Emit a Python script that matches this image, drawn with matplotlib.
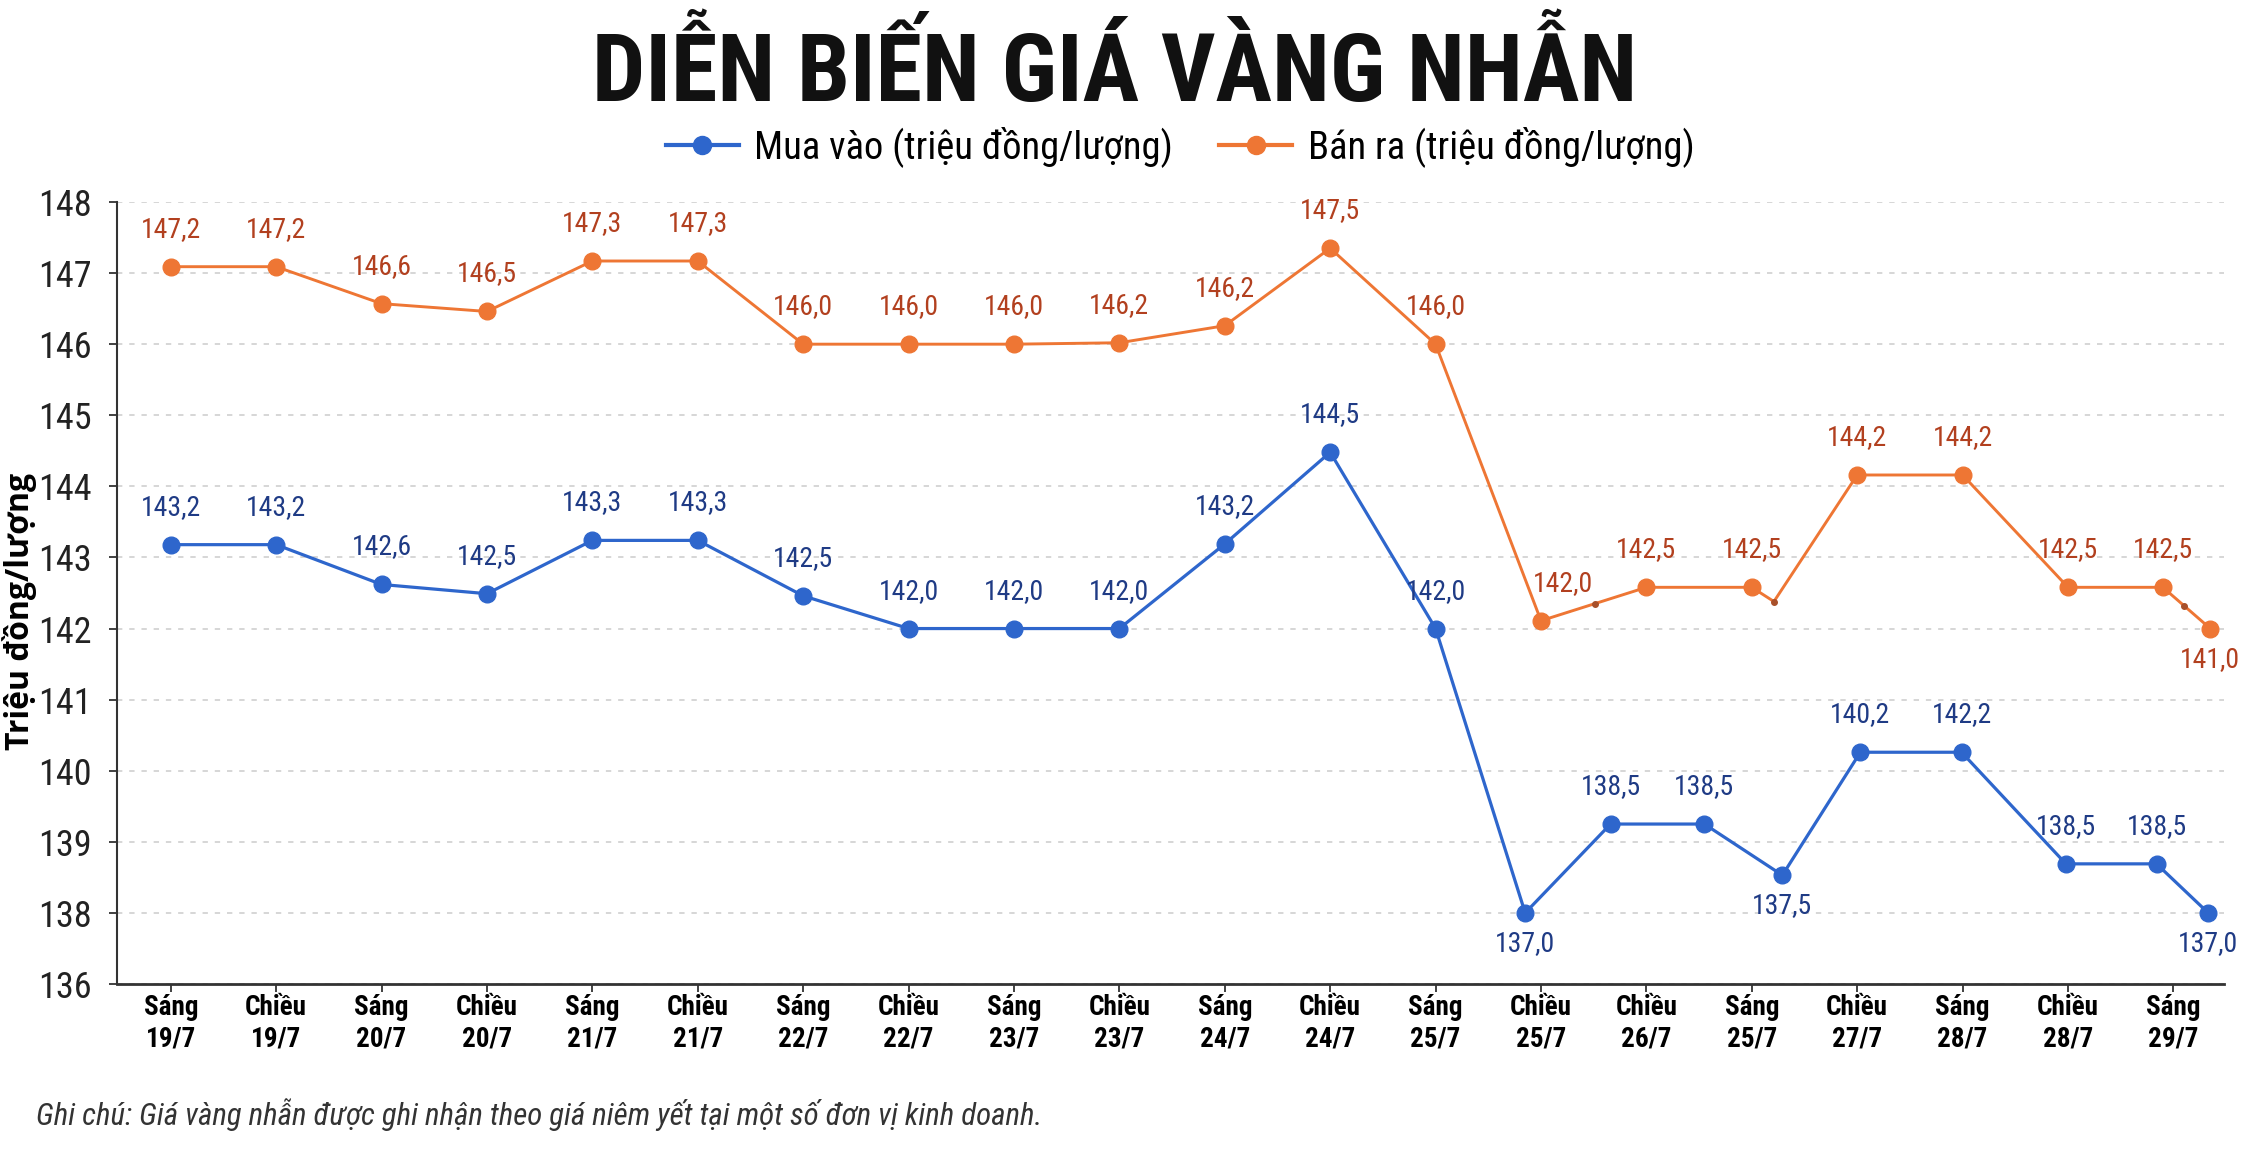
import numpy as np
import matplotlib
matplotlib.use("Agg")
import matplotlib.pyplot as plt
from matplotlib import font_manager as fm
from matplotlib.lines import Line2D

## Dữ liệu
nhan_truc_x = ["Sáng\n19/7", "Chiều\n19/7", "Sáng\n20/7", "Chiều\n20/7", "Sáng\n21/7",
               "Chiều\n21/7", "Sáng\n22/7", "Chiều\n22/7", "Sáng\n23/7", "Chiều\n23/7",
               "Sáng\n24/7", "Chiều\n24/7", "Sáng\n25/7", "Chiều\n25/7", "Chiều\n26/7",
               "Sáng\n25/7", "Chiều\n27/7", "Sáng\n28/7", "Chiều\n28/7", "Sáng\n29/7"]

# Mua vào : vị trí vẽ (x theo chỉ số mốc, y theo thang của trục) và nhãn ghi trên điểm
x_mua = [0, 1, 2, 3, 4, 5, 6, 7, 8, 9, 10, 11, 12,
         12.85, 13.66, 14.55, 15.29, 16.03, 16.99, 17.98, 18.84, 19.33]
y_mua = [143.18, 143.18, 142.62, 142.49, 143.24, 143.24, 142.46, 142.0, 142.0, 142.0,
         143.19, 144.48, 142.0, 138.0, 139.25, 139.25, 138.53, 140.26, 140.26,
         138.69, 138.69, 138.0]
nhan_mua = ["143,2", "143,2", "142,6", "142,5", "143,3", "143,3", "142,5", "142,0",
            "142,0", "142,0", "143,2", "144,5", "142,0", "137,0", "138,5", "138,5",
            "137,5", "140,2", "142,2", "138,5", "138,5", "137,0"]
duoi_mua = [13, 16, 21]          # nhãn đặt dưới điểm

# Bán ra
x_ban = [0, 1, 2, 3, 4, 5, 6, 7, 8, 9, 10, 11, 12,
         13, 14, 15, 16, 17, 18, 18.9, 19.35]
y_ban = [147.09, 147.09, 146.57, 146.46, 147.17, 147.17, 146.0, 146.0, 146.0, 146.02,
         146.26, 147.35, 146.0, 142.11, 142.58, 142.58, 144.16, 144.16, 142.58,
         142.58, 142.0]
nhan_ban = ["147,2", "147,2", "146,6", "146,5", "147,3", "147,3", "146,0", "146,0",
            "146,0", "146,2", "146,2", "147,5", "146,0", "142,0", "142,5", "142,5",
            "144,2", "144,2", "142,5", "142,5", "141,0"]
duoi_ban = [20]

# các chấm nhỏ lẫn trên đường bán ra
x_cham = [13.51, 15.21, 19.1]
y_cham = [142.35, 142.38, 142.32]

vach_y = [136, 138, 139, 140, 141, 142, 143, 144, 145, 146, 147, 148]

## Phông chữ
def chon_phong(ds, dam=False):
    for ten in ds:
        try:
            tep = fm.findfont(fm.FontProperties(family=ten, weight="bold" if dam else "normal"),
                              fallback_to_default=False)
        except ValueError:
            continue
        if not dam or "bold" in tep.lower() or "black" in tep.lower():
            return ten
    return "DejaVu Sans"

HEP = chon_phong(["Liberation Sans Narrow", "Roboto Condensed", "Liberation Sans"])
DAM = chon_phong(["Noto Sans", "Open Sans", "Lato", "DejaVu Sans"], dam=True)
plt.rcParams["font.family"] = [HEP, "DejaVu Sans"]

XANH = "#2e66cc"
CAM = "#ee7634"
CHU_XANH = "#1f3b85"
CHU_CAM = "#b2401f"

## Thang trục y : khoảng 136-138 chỉ chiếm một ô lưới
def thuan(v):
    v = np.asarray(v, dtype=float)
    return np.where(v >= 138, v - 137, (v - 136) / 2)

def nghich(p):
    p = np.asarray(p, dtype=float)
    return np.where(p >= 1, p + 137, p * 2 + 136)

W, H = 2256, 1158
fig = plt.figure(figsize=(W / 100, H / 100), dpi=100)
fig.patch.set_facecolor("white")
ax = fig.add_axes([117 / W, 1 - 984 / H, (2224 - 117) / W, (984 - 202) / H])
ax.set_yscale("function", functions=(thuan, nghich))

ax.plot(x_mua, y_mua, color=XANH, lw=2.3, marker="o", ms=12, zorder=3)
idx_ban = list(range(len(x_ban)))
# đường bán ra có một chỗ gấp ở chấm nhỏ thứ hai
xb = x_ban[:16] + [x_cham[1]] + x_ban[16:]
yb = y_ban[:16] + [y_cham[1]] + y_ban[16:]
moc = [i if i < 16 else i + 1 for i in idx_ban]
ax.plot(xb, yb, color=CAM, lw=2.1, marker="o", ms=12, markevery=moc, zorder=3)
ax.plot(x_cham, y_cham, ls="none", marker="o", ms=4, color="#a8502a", zorder=4)

for i, (x, y, t) in enumerate(zip(x_mua, y_mua, nhan_mua)):
    dy = -22 if i in duoi_mua else 27
    ax.annotate(t, (x, y), xytext=(0, dy), textcoords="offset points",
                ha="center", va="center", fontsize=20, color=CHU_XANH)
for i, (x, y, t) in enumerate(zip(x_ban, y_ban, nhan_ban)):
    dy = -22 if i in duoi_ban else 27
    dx = 16 if i == 13 else 0
    ax.annotate(t, (x, y), xytext=(dx, dy), textcoords="offset points",
                ha="center", va="center", fontsize=20, color=CHU_CAM)

ax.set_xlim(-0.51, 19.48)
ax.set_ylim(136, 148)
ax.set_xticks(range(len(nhan_truc_x)))
ax.set_xticklabels(nhan_truc_x, fontweight="bold", fontsize=19.5, linespacing=1.25)
ax.set_yticks(vach_y)
ax.set_yticklabels([str(v) for v in vach_y], fontsize=26, color="#222222")
ax.yaxis.set_minor_locator(matplotlib.ticker.NullLocator())
ax.tick_params(axis="y", length=6, width=1.3, pad=12, color="#333333")
ax.tick_params(axis="x", length=6, width=1.3, pad=1, color="#333333")

ax.grid(axis="y", color="#cccccc", lw=1.1, ls=(0, (3.5, 4.5)))
ax.set_axisbelow(True)
for s in ["top", "right"]:
    ax.spines[s].set_visible(False)
ax.spines["left"].set_color("#333333")
ax.spines["left"].set_linewidth(1.5)
ax.spines["bottom"].set_color("#333333")
ax.spines["bottom"].set_linewidth(2.0)

fig.text(20 / W, 1 - 611 / H, "Triệu đồng/lượng", rotation=90, ha="center", va="center",
         fontsize=23, fontweight="bold", family=[DAM, "DejaVu Sans"])

fig.text(0.494, 1 - 101 / H, "DIỄN BIẾN GIÁ VÀNG NHẪN", ha="center", va="baseline",
         fontsize=68, fontweight="heavy", color="#111111")

tay = [Line2D([], [], color=XANH, lw=3, marker="o", ms=13),
       Line2D([], [], color=CAM, lw=3, marker="o", ms=13)]
fig.legend(tay, ["Mua vào (triệu đồng/lượng)", "Bán ra (triệu đồng/lượng)"],
           loc="center", bbox_to_anchor=(0.523, 1 - 147 / H), ncol=2, frameon=False,
           fontsize=27.7, handlelength=1.9, handletextpad=0.4, columnspacing=1.2)

fig.text(36 / W, 1 - 1115 / H,
         "Ghi chú: Giá vàng nhẫn được ghi nhận theo giá niêm yết tại một số đơn vị kinh doanh.",
         ha="left", va="center", fontsize=22.2, style="italic", color="#333333")

fig.savefig("out.png", dpi=100)
